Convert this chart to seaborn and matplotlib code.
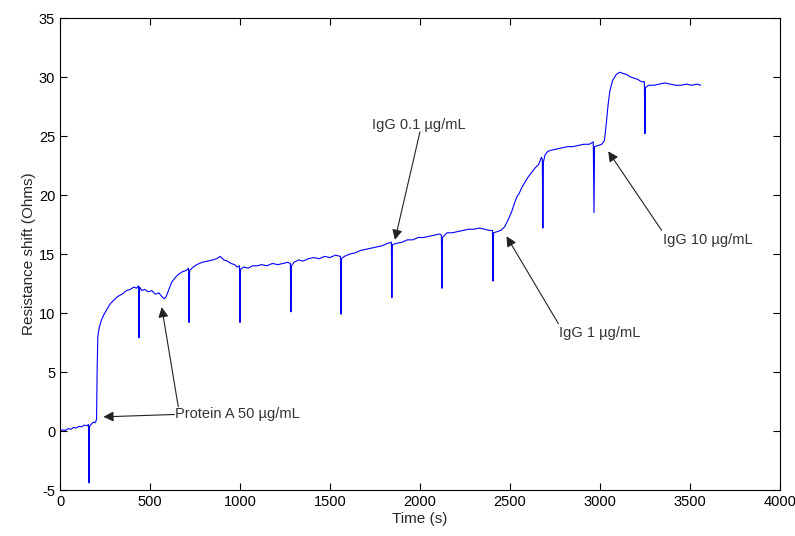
import matplotlib
matplotlib.use("Agg")
import matplotlib.pyplot as plt
import pandas as pd
import seaborn as sns

# sensor trace (time in s, resistance shift in Ohms)
time_s = [
    0, 15, 30, 45, 60, 75, 90, 105, 120, 135, 150, 158, 161, 164, 175, 185, 195, 200,
    203, 206, 210, 218, 230, 245, 260, 280, 300, 320, 345, 370, 390, 410, 425, 436,
    439, 442, 455, 470, 490, 510, 530, 550, 565, 580, 590, 605, 620, 640, 660, 680,
    700, 714, 717, 720, 740, 760, 790, 820, 850, 870, 890, 910, 930, 950, 970, 985,
    997, 1000, 1003, 1020, 1045, 1070, 1095, 1120, 1150, 1180, 1210, 1240, 1265, 1280,
    1283, 1286, 1300, 1325, 1350, 1380, 1410, 1440, 1470, 1500, 1530, 1558, 1561, 1564,
    1580, 1610, 1640, 1670, 1700, 1730, 1760, 1790, 1820, 1841, 1844, 1847, 1870, 1900,
    1930, 1960, 1990, 2020, 2050, 2080, 2110, 2119, 2122, 2125, 2150, 2180, 2210, 2240,
    2270, 2300, 2330, 2360, 2385, 2403, 2406, 2409, 2430, 2450, 2470, 2490, 2510, 2525,
    2540, 2550, 2565, 2580, 2600, 2620, 2640, 2660, 2675, 2680, 2683, 2686, 2695, 2710,
    2730, 2760, 2790, 2820, 2850, 2880, 2910, 2940, 2963, 2967, 2970, 2990, 3010, 3025,
    3035, 3045, 3055, 3070, 3090, 3110, 3130, 3150, 3170, 3190, 3210, 3230, 3247, 3250,
    3253, 3270, 3300, 3330, 3360, 3390, 3420, 3450, 3480, 3510, 3540, 3560,
]
shift_ohm = [
    0.0, 0.1, 0.05, 0.2, 0.15, 0.3, 0.25, 0.4, 0.35, 0.5, 0.45, 0.55, -4.4, 0.4, 0.6, 0.75, 0.7, 0.85,
    1.0, 5.0, 8.0, 8.8, 9.4, 9.9, 10.3, 10.8, 11.1, 11.4, 11.6, 11.9, 12.0, 12.2, 12.1, 12.3,
    7.9, 12.2, 11.9, 12.0, 11.8, 11.9, 11.6, 11.7, 11.4, 11.2, 11.4, 12.0, 12.6, 13.0, 13.3, 13.5,
    13.6, 13.8, 9.2, 13.6, 13.9, 14.1, 14.3, 14.4, 14.5, 14.6, 14.8, 14.5, 14.4, 14.2, 14.1, 13.9,
    14.0, 9.2, 13.7, 13.9, 13.8, 14.0, 14.0, 14.1, 14.0, 14.2, 14.1, 14.2, 14.3, 14.2,
    10.1, 14.0, 14.3, 14.5, 14.4, 14.6, 14.7, 14.6, 14.8, 14.7, 14.9, 14.8, 9.9, 14.6,
    14.8, 15.0, 15.1, 15.3, 15.4, 15.5, 15.6, 15.7, 15.9, 16.0, 11.3, 15.8, 15.9, 16.0,
    16.2, 16.2, 16.4, 16.4, 16.5, 16.6, 16.7, 16.6, 12.1, 16.4, 16.8, 16.8, 16.9, 17.0,
    17.1, 17.1, 17.2, 17.1, 17.0, 17.0, 12.7, 16.8, 16.9, 17.0, 17.3, 17.9, 18.6, 19.3,
    19.9, 20.1, 20.6, 21.0, 21.5, 21.9, 22.3, 22.6, 23.2, 23.0, 17.2, 22.8, 23.4, 23.7,
    23.8, 23.9, 24.0, 24.1, 24.1, 24.2, 24.3, 24.3, 24.5, 18.5, 24.1, 24.2, 24.3, 24.6,
    26.0, 27.6, 28.8, 29.7, 30.2, 30.4, 30.3, 30.2, 30.0, 29.9, 29.8, 29.6, 29.6, 25.2,
    29.1, 29.3, 29.3, 29.4, 29.5, 29.4, 29.3, 29.3, 29.4, 29.3, 29.4, 29.3,
]

# annotations: label, text anchor, arrow tails and tips (data coords)
labels = ["Protein A 50 \u00b5g/mL", "IgG 0.1 \u00b5g/mL", "IgG 1 \u00b5g/mL", "IgG 10 \u00b5g/mL"]
label_pos = [(639, 1.44), (1991, 25.93), (2772, 8.33), (3352, 16.2)]
label_ha = ["left", "center", "left", "left"]
arrow_tail = [(635, 1.4), (657, 2.06), (2000, 25.35), (2769, 9.1), (3343, 17.0)]
arrow_tip = [(241, 1.2), (565, 10.5), (1861, 16.2), (2481, 16.5), (3046, 23.7)]

sns.set_style("ticks")
plt.rcParams["font.family"] = ["Liberation Sans", "DejaVu Sans"]
plt.rcParams["axes.unicode_minus"] = False

df = pd.DataFrame({"Time (s)": time_s, "Resistance shift (Ohms)": shift_ohm})

fig = plt.figure(figsize=(7.95, 5.36), dpi=100)
ax = fig.add_axes([0.0755, 0.0858, 0.9055, 0.8806])
sns.lineplot(data=df, x="Time (s)", y="Resistance shift (Ohms)", color="#0000ff",
             linewidth=0.8, estimator=None, ax=ax)

for tail, tip in zip(arrow_tail, arrow_tip):
    ax.annotate("", xy=tip, xytext=tail,
                arrowprops=dict(arrowstyle="-|>", color="#222222", lw=0.8,
                                mutation_scale=15, shrinkA=0, shrinkB=0))
for lab, pos, ha in zip(labels, label_pos, label_ha):
    ax.text(pos[0], pos[1], lab, ha=ha, va="center", fontsize=10.5, color="#333333")

ax.set_xlim(0, 4000)
ax.set_ylim(-5, 35)
ax.set_xticks(range(0, 4001, 500))
ax.set_yticks(range(-5, 36, 5))
ax.tick_params(direction="in", top=True, right=True, length=5, width=0.8,
               labelsize=10.5, colors="black")
for sp in ax.spines.values():
    sp.set_visible(True)
    sp.set_color("black")
    sp.set_linewidth(0.8)
ax.set_xlabel("Time (s)", fontsize=11, labelpad=2)
ax.set_ylabel("Resistance shift (Ohms)", fontsize=11, labelpad=2)

fig.savefig("out.png", dpi=100)
